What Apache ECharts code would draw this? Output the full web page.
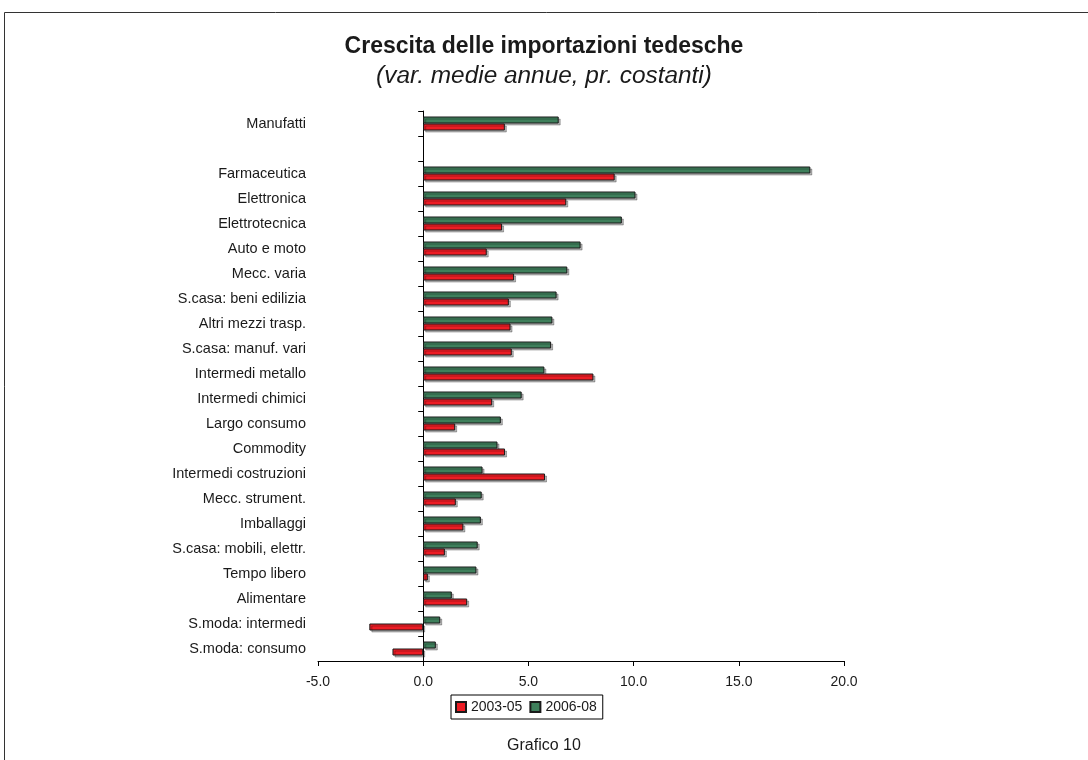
<!DOCTYPE html>
<html>
<head>
<meta charset="utf-8">
<script src="https://cdn.jsdelivr.net/npm/echarts@6/dist/echarts.min.js"></script>
<style>
  html, body { margin: 0; padding: 0; background: #fff; }
  #main { width: 1088px; height: 760px; }
</style>
</head>
<body>
<div id="main"></div>
<script>
var categories = ['Manufatti', '', 'Farmaceutica', 'Elettronica', 'Elettrotecnica', 'Auto e moto',
    'Mecc. varia', 'S.casa: beni edilizia', 'Altri mezzi trasp.', 'S.casa: manuf. vari',
    'Intermedi metallo', 'Intermedi chimici', 'Largo consumo', 'Commodity', 'Intermedi costruzioni',
    'Mecc. strument.', 'Imballaggi', 'S.casa: mobili, elettr.', 'Tempo libero', 'Alimentare',
    'S.moda: intermedi', 'S.moda: consumo'];
var v2003_05 = [3.88, '-', 9.10, 6.80, 3.75, 3.02, 4.32, 4.07, 4.15, 4.21, 8.09, 3.28, 1.52, 3.89, 5.79,
    1.55, 1.91, 1.03, 0.22, 2.09, -2.56, -1.46];
var v2006_08 = [6.44, '-', 18.4, 10.09, 9.44, 7.48, 6.85, 6.34, 6.14, 6.08, 5.76, 4.68, 3.69, 3.53, 2.82,
    2.78, 2.74, 2.59, 2.53, 1.36, 0.81, 0.60];
var seriesNames = ['2003-05', '2006-08'];
var xTicks = { min: -5, max: 20, step: 5 };

var font = 'Liberation Sans, Arial, sans-serif';

var myChart = echarts.init(document.getElementById('main'));

function barStyle(color) {
    return {
        color: color,
        borderColor: '#1a1a1a',
        borderWidth: 1,
        shadowColor: 'rgba(0,0,0,0.28)',
        shadowOffsetX: 2,
        shadowOffsetY: 2,
        shadowBlur: 0
    };
}

var option = {
    backgroundColor: '#fff',
    textStyle: { fontFamily: font },
    title: [{
        text: 'Crescita delle importazioni tedesche',
        left: 'center',
        top: 30,
        textStyle: { fontFamily: font, fontSize: 23, fontWeight: 'bold', color: '#1a1a1a' }
    }, {
        text: '(var. medie annue, pr. costanti)',
        left: 'center',
        top: 59,
        textStyle: { fontFamily: font, fontSize: 24.4, fontStyle: 'italic', fontWeight: 'normal', color: '#1a1a1a' }
    }, {
        text: 'Grafico 10',
        left: 'center',
        top: 733,
        textStyle: { fontFamily: font, fontSize: 16, fontWeight: 'normal', color: '#1a1a1a' }
    }],
    graphic: [{
        type: 'rect',
        shape: { x: 4.5, y: 12.5, width: 1200, height: 900 },
        style: { fill: 'none', stroke: '#333', lineWidth: 1 },
        silent: true
    }],
    legend: {
        data: seriesNames,
        left: 451,
        top: 695,
        orient: 'horizontal',
        icon: 'rect',
        borderColor: '#000',
        borderWidth: 1,
        padding: [5, 6, 5, 4],
        itemWidth: 10,
        itemHeight: 10,
        itemGap: 7,
        textStyle: { fontFamily: font, fontSize: 14, color: '#1a1a1a' }
    },
    grid: { left: 318, right: 244, top: 111, bottom: 99 },
    xAxis: {
        type: 'value',
        min: xTicks.min,
        max: xTicks.max,
        interval: xTicks.step,
        splitLine: { show: false },
        axisLine: { show: true, lineStyle: { color: '#000', width: 1 } },
        axisTick: { show: true, length: 5, lineStyle: { color: '#000' } },
        axisLabel: {
            margin: 14,
            fontFamily: font,
            fontSize: 14,
            color: '#1a1a1a',
            formatter: function (v) { return v.toFixed(1); }
        }
    },
    yAxis: {
        type: 'category',
        inverse: true,
        data: categories,
        axisLine: { show: true, onZero: true, lineStyle: { color: '#000', width: 1 } },
        axisTick: { show: true, length: 5, lineStyle: { color: '#000' } },
        axisLabel: { margin: 12, fontFamily: font, fontSize: 14.5, color: '#1a1a1a' }
    },
    // with an inverted category axis the first series sits on top: green above red
    series: [{
        name: seriesNames[1],
        type: 'bar',
        data: v2006_08,
        barWidth: 7,
        barGap: '0%',
        itemStyle: barStyle('#3e7f5b')
    }, {
        name: seriesNames[0],
        type: 'bar',
        data: v2003_05,
        barWidth: 7,
        barGap: '0%',
        itemStyle: barStyle('#ed1c24')
    }]
};

myChart.setOption(option);
</script>
</body>
</html>
